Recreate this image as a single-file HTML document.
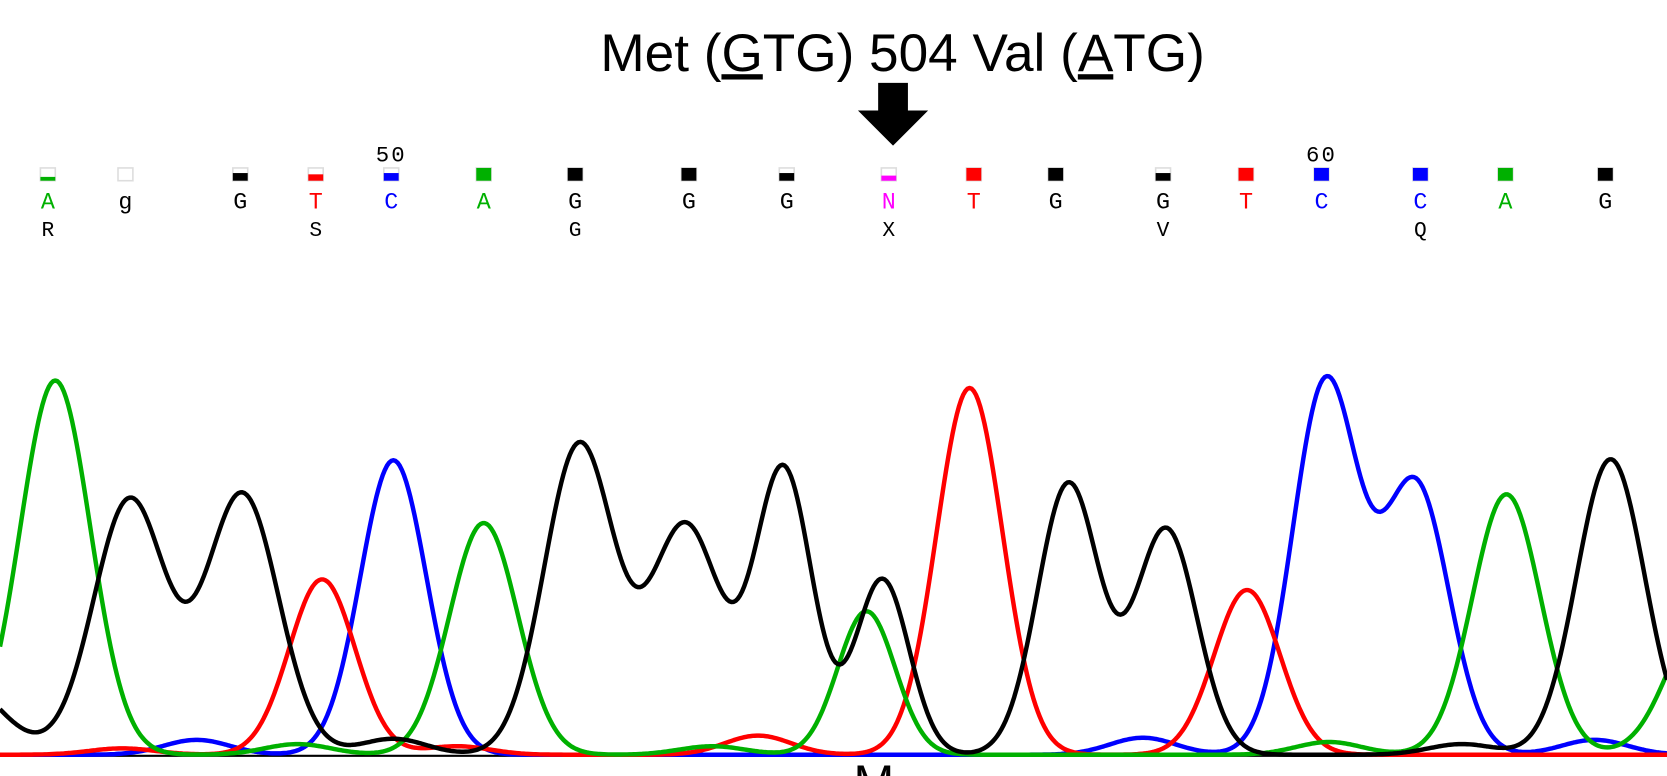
<!DOCTYPE html>
<html><head><meta charset="utf-8"><style>
html,body{margin:0;padding:0;background:#fff;}
body{width:1667px;height:776px;overflow:hidden;position:relative;font-family:"Liberation Sans",sans-serif;}
</style></head><body>
<svg id="chart" width="1667" height="776" viewBox="0 0 1568 730" preserveAspectRatio="none" style="position:absolute;left:0;top:0"></svg>
<script>
const baseX=[45,118,226,297,368,455,541,648,740,836,916,993,1094,1172,1243,1336,1416,1510];
const baseCall=['A','g','G','T','C','A','G','G','G','N','T','G','G','T','C','C','A','G'];
const baseQual=[0.3,0,0.6,0.5,0.6,1,1,1,0.6,0.4,1,1,0.6,1,1,1,1,1];
const secondCall=['R','','','S','','','G','','','X','','','V','','','Q','',''];
const posLabels=['50','60'];
const posLabelIdx=[4,14];
const greenX=[52,455,815,1417,1600,280,670,1250,1560];
const greenH=[352,218,135,245,120,10,8,12,6];
const greenS=[33,32,27,32,31,31,31,31,31];
const blackX=[-40,122,228,545,645,737,830,1005,1097,1515,370,1375];
const blackH=[70,240,245,292,215,268,165,255,212,278,15,10];
const blackS=[40,34,34,33,33,27,25,29,29,32,31,31];
const redX=[303,912,1173,115,430,713];
const redH=[165,345,155,6,8,18];
const redS=[31,31,31,31,31,31];
const blueX=[370,1247,1332,185,1075,1500];
const blueH=[277,350,252,14,16,14];
const blueS=[31,31,31,31,31,31];
const NS='http://www.w3.org/2000/svg';
const svg=document.getElementById('chart');
const baseY=710;
const yOf=v=>baseY-v;
const colors={A:'#00b000',C:'#0000ff',G:'#000',T:'#ff0000',N:'#ff00ff',g:'#000'};
function mk(t,a){const e=document.createElementNS(NS,t);for(const k in a)e.setAttribute(k,a[k]);svg.appendChild(e);return e;}
const title=mk('text',{x:849,y:67,'text-anchor':'middle','font-family':'Liberation Sans,sans-serif','font-size':50,fill:'#000'});
title.innerHTML='Met (<tspan text-decoration="underline">G</tspan>TG) 504 Val (<tspan text-decoration="underline">A</tspan>TG)';


const bl=mk('line',{x1:0,x2:1568,y1:baseY+1,y2:baseY+1,stroke:'#000','stroke-width':2});


function trace(xs,hs,ss,col,name){
  let pts=[];
  for(let x=0;x<=1568;x+=2){let v=0;for(let i=0;i<xs.length;i++){const d=(x-xs[i])/ss[i];v+=hs[i]*Math.exp(-d*d/2);}pts.push(x+','+yOf(v).toFixed(1));}
  const p=mk('polyline',{points:pts.join(' '),fill:'none',stroke:col,'stroke-width':4.2,'stroke-linejoin':'round'});
  
  
}
trace(blueX,blueH,blueS,'#0000ff','trace-c');
trace(redX,redH,redS,'#ff0000','trace-t');
trace(greenX,greenH,greenS,'#00b000','trace-a');
trace(blackX,blackH,blackS,'#000','trace-g');
for(let i=0;i<baseX.length;i++){
  const x=baseX[i],c=baseCall[i];
  const col=colors[c]||'#000';
  const box=mk('rect',{x:x-7,y:158,width:14,height:12,fill:'#fff',stroke:'#ddd','stroke-width':1.5});
  
  
  if(baseQual[i]>0){const h=12*baseQual[i];const f=mk('rect',{x:x-7,y:170-h,width:14,height:h,fill:col});
    
    }
  const t=mk('text',{x:x,y:196,'text-anchor':'middle','font-family':'Liberation Mono,monospace','font-size':22,fill:col});
  t.textContent=c;
  
  
  if(secondCall[i]){const t2=mk('text',{x:x,y:222,'text-anchor':'middle','font-family':'Liberation Mono,monospace','font-size':20,fill:'#000'});
    t2.textContent=secondCall[i];
    
    }
}
posLabels.forEach((l,j)=>{const t=mk('text',{x:baseX[posLabelIdx[j]],y:152,'text-anchor':'middle','font-family':'Liberation Mono,monospace','font-size':21,fill:'#000','letter-spacing':'2'});
  t.textContent=l;
  
  });
const arr=mk('polygon',{points:'826,78 854,78 854,104 873,104 840,137 807,104 826,104',fill:'#000'});


const m=mk('text',{x:822,y:752,'text-anchor':'middle','font-size':46,fill:'#000'});
m.textContent='M';


</script>
</body></html>
